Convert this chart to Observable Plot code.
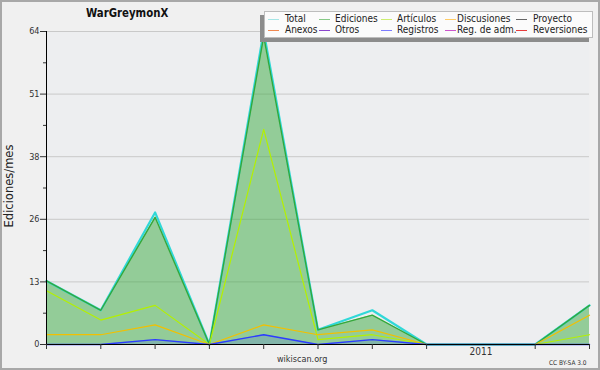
<!DOCTYPE html>
<html>
<head>
<meta charset="utf-8">
<script src="https://cdn.jsdelivr.net/npm/d3@7"></script>
<script src="https://cdn.jsdelivr.net/npm/@observablehq/plot@0.6"></script>
<style>
  html, body { margin: 0; padding: 0; background: #f0f0f0; }
  #wrap { position: relative; width: 600px; height: 370px; overflow: hidden; background: #f0f0f0; font-family: "DejaVu Sans Condensed", "DejaVu Sans", sans-serif; }
  #wrap svg { position: absolute; left: 0; top: 0; }
  .border { position: absolute; left: 0; top: 0; width: 596px; height: 366px; border: 2px solid #a8a8a8; pointer-events: none; }
  .title { position: absolute; left: 86px; top: 5px; font-weight: bold; font-size: 13px; color: #111; white-space: nowrap; transform: scaleX(0.87); transform-origin: left top; }
  .legend-shadow { position: absolute; left: 260px; top: 15px; width: 329px; height: 27px; background: #8c8c8c; }
  .legend { position: absolute; left: 264px; top: 11px; width: 327px; height: 25px; background: #fbfbfb; border: 1px solid #bdbdbd; }
  .item { position: absolute; font-size: 10px; color: #222; line-height: 10px; white-space: nowrap; }
  .sw { position: absolute; height: 0; border-top: 1px solid; width: 11px; }
  .foot { position: absolute; font-size: 9px; color: #333; }
  .cc { position: absolute; font-size: 6.5px; color: #333; }
</style>
</head>
<body>
<div id="wrap"></div>
<script>
// ---- data ----
const months = ["2010-05","2010-06","2010-07","2010-08","2010-09","2010-10","2010-11","2010-12","2011-01","2011-02","2011-03"];
const total       = [13, 7, 27, 0, 64, 3, 7, 0, 0, 0, 8];
const ediciones   = [13, 7, 26, 0, 63, 3, 6, 0, 0, 0, 8];
const articulos   = [11, 5,  8, 0, 44, 1, 2, 0, 0, 0, 2];
const discusiones = [ 2, 2,  4, 0,  4, 2, 3, 0, 0, 0, 6];
const registros   = [ 0, 0,  1, 0,  2, 0, 1, 0, 0, 0, 0];
const yTicks = [12.8, 25.6, 38.4, 51.2, 64];
const yMinor = [6.4, 19.2, 32, 44.8, 57.6];
const yTickLabels = ["13", "26", "38", "51", "64"];
const legendNames = ["Total","Ediciones","Artículos","Discusiones","Proyecto","Anexos","Otros","Registros","Reg. de adm.","Reversiones"];
const legendColors = ["#a6e6e6","#86c986","#cdee70","#ffcc66","#666666","#f08850","#8a44cc","#7c7cff","#cc55cc","#e83c3c"];

const data = months.map((m, i) => ({
  i, month: m,
  total: total[i], ediciones: ediciones[i], articulos: articulos[i],
  discusiones: discusiones[i], registros: registros[i]
}));
const idx = months.map((m, i) => i);
const yearIdx = idx.filter(i => months[i].endsWith("-01"));
const otherIdx = idx.filter(i => !months[i].endsWith("-01"));

const chart = Plot.plot({
  width: 600, height: 370,
  marginLeft: 46, marginRight: 11, marginTop: 31, marginBottom: 26,
  style: { background: "transparent", fontFamily: "'DejaVu Sans Condensed', 'DejaVu Sans', sans-serif", fontSize: "9px", color: "#333" },
  x: { domain: [0, months.length - 1] },
  y: { domain: [0, 64] },
  marks: [
    Plot.frame({ fill: "#edeef0", stroke: null }),
    Plot.gridY(yTicks, { stroke: "#c9c9c9", strokeOpacity: 1 }),
    Plot.areaY(data, { x: "i", y: "ediciones", fill: "#3aa93f", fillOpacity: 0.5, curve: "linear" }),
    Plot.areaY(data, { x: "i", y: "registros", fill: "#3a50ff", fillOpacity: 0.18 }),
    Plot.lineY(data, { x: "i", y: "total", stroke: "#30d8d8", strokeWidth: 2.2 }),
    Plot.lineY(data, { x: "i", y: "ediciones", stroke: "#34a83a", strokeWidth: 1.4 }),
    Plot.lineY(data, { x: "i", y: "articulos", stroke: "#b4f000", strokeWidth: 1.2 }),
    Plot.lineY(data, { x: "i", y: "discusiones", stroke: "#f2c000", strokeWidth: 1.2 }),
    Plot.lineY(data, { x: "i", y: "registros", stroke: "#2c3cff", strokeWidth: 1.4 }),
    Plot.axisY(yTicks, { tickSize: 6, tickPadding: 1, tickFormat: (d, k) => yTickLabels[k], label: null, fill: "#333" }),
    Plot.axisY(yMinor, { tickSize: 3, tickFormat: () => "", label: null }),
    Plot.axisY([0], { tickSize: 6, tickPadding: 1, tickFormat: () => "0", label: null, fill: "#333" }),
    Plot.ruleX([0], { stroke: "#000" }),
    Plot.ruleY([0], { stroke: "#000" }),
    Plot.axisX(otherIdx, { tickSize: 5, tickFormat: () => "", label: null }),
    Plot.axisX(yearIdx, { tickSize: 0, tickPadding: 3, tickFormat: i => months[i].slice(0, 4), label: null, fontSize: 10, fill: "#333" }),
    Plot.text(["Ediciones/mes"], { frameAnchor: "left", dx: -37, dy: -2, rotate: -90, textAnchor: "middle", fontSize: 11.5, fill: "#222", fontFamily: "DejaVu Sans" })
  ]
});

const wrap = document.getElementById("wrap");
wrap.appendChild(chart);

function el(cls, text, css) {
  const d = document.createElement("div");
  d.className = cls;
  if (text != null) d.textContent = text;
  Object.assign(d.style, css || {});
  wrap.appendChild(d);
  return d;
}
el("title", "WarGreymonX");
el("legend-shadow");
el("legend");
const colX = [[4, 21], [55, 71], [117, 133], [181, 193], [252, 269]];
legendNames.forEach((name, k) => {
  const col = k % 5, row = Math.floor(k / 5);
  const top = 14 + row * 10.5;
  el("sw", null, { left: (264 + colX[col][0]) + "px", top: (top + 5) + "px", borderTopColor: legendColors[k] });
  el("item", name, { left: (264 + colX[col][1]) + "px", top: (top) + "px" });
});
el("foot", "wikiscan.org", { left: "277px", top: "354px" });
el("cc", "CC BY-SA 3.0", { left: "549px", top: "359px" });
el("border");
</script>
</body>
</html>
